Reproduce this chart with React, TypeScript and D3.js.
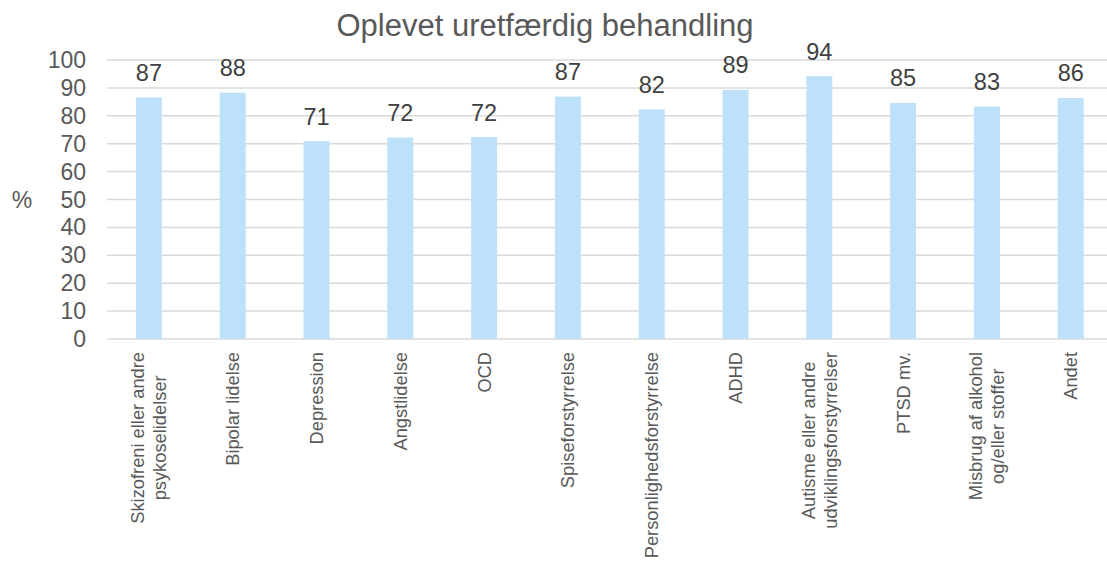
import React, { useMemo } from "react";
import * as d3 from "d3";

const categories: string[][] = [
  ["Skizofreni eller andre", "psykoselidelser"],
  ["Bipolar lidelse"],
  ["Depression"],
  ["Angstlidelse"],
  ["OCD"],
  ["Spiseforstyrrelse"],
  ["Personlighedsforstyrrelse"],
  ["ADHD"],
  ["Autisme eller andre", "udviklingsforstyrrelser"],
  ["PTSD mv."],
  ["Misbrug af alkohol", "og/eller stoffer"],
  ["Andet"],
];
const values: number[] = [86.6, 88.3, 70.9, 72.2, 72.4, 86.9, 82.3, 89.3, 94.2, 84.6, 83.3, 86.4];
const valueLabels: string[] = ["87", "88", "71", "72", "72", "87", "82", "89", "94", "85", "83", "86"];
const yTicks: number[] = [0, 10, 20, 30, 40, 50, 60, 70, 80, 90, 100];
const title = "Oplevet uretfærdig behandling";
const yAxisLabel = "%";

const W = 1107;
const H = 562;
const FONT = "'Liberation Sans', Arial, Helvetica, sans-serif";
const CAT_FONT_SIZE = 18.3;

function measure(text: string, size: number): number {
  if (typeof document === "undefined") return text.length * size * 0.5;
  const c = document.createElement("canvas");
  const ctx = c.getContext("2d");
  if (!ctx) return text.length * size * 0.5;
  ctx.font = `${size}px 'Liberation Sans', Arial, sans-serif`;
  return ctx.measureText(text).width;
}

export default function App() {
  const left = 107;
  const x = d3
    .scaleBand<number>()
    .domain(d3.range(categories.length))
    .range([left, left + 83.8 * categories.length])
    .paddingInner(0.69)
    .paddingOuter(0.345);
  const y = d3.scaleLinear().domain([0, 100]).range([339, 60]);

  const catWidths = useMemo(
    () => categories.map((lines) => lines.map((l) => measure(l, CAT_FONT_SIZE))),
    []
  );

  return (
    <svg
      width={W}
      height={H}
      style={{ position: "absolute", left: 0, top: 0, background: "#fff" }}
      fontFamily={FONT}
    >
      <rect x={0} y={0} width={W} height={H} fill="#fff" />
      <text x={545} y={36} textAnchor="middle" fontSize={31} fill="#595959">
        {title}
      </text>
      {yTicks.map((t) => (
        <g key={t}>
          <line x1={left} x2={W} y1={y(t)} y2={y(t)} stroke="#D9D9D9" strokeWidth={1.5} />
          <text x={86} y={y(t)} dy="0.35em" textAnchor="end" fontSize={23} fill="#595959">
            {t}
          </text>
        </g>
      ))}
      <text x={22} y={(y(0) + y(100)) / 2} dy="0.35em" textAnchor="middle" fontSize={23} fill="#595959">
        {yAxisLabel}
      </text>
      {values.map((v, i) => {
        const bx = x(i)!;
        const bw = x.bandwidth();
        return (
          <g key={i}>
            <rect x={bx} y={y(v)} width={bw} height={y(0) - y(v)} fill="#BDE1FA" />
            <text
              x={bx + bw / 2}
              y={y(v) - 16.5}
              textAnchor="middle"
              fontSize={23.5}
              fill="#404040"
            >
              {valueLabels[i]}
            </text>
          </g>
        );
      })}
      {categories.map((lines, i) => {
        const cx = x(i)! + x.bandwidth() / 2;
        const maxW = Math.max(...catWidths[i]);
        const top = 352;
        const cy = top + maxW / 2;
        const spacing = 22;
        const n = lines.length;
        return (
          <g key={i}>
            {lines.map((l, j) => {
              const lx = cx + (j - (n - 1) / 2) * spacing;
              return (
                <text
                  key={j}
                  transform={`translate(${lx},${cy}) rotate(-90)`}
                  textAnchor="middle"
                  dy="0.35em"
                  fontSize={CAT_FONT_SIZE}
                  fill="#595959"
                >
                  {l}
                </text>
              );
            })}
          </g>
        );
      })}
    </svg>
  );
}
